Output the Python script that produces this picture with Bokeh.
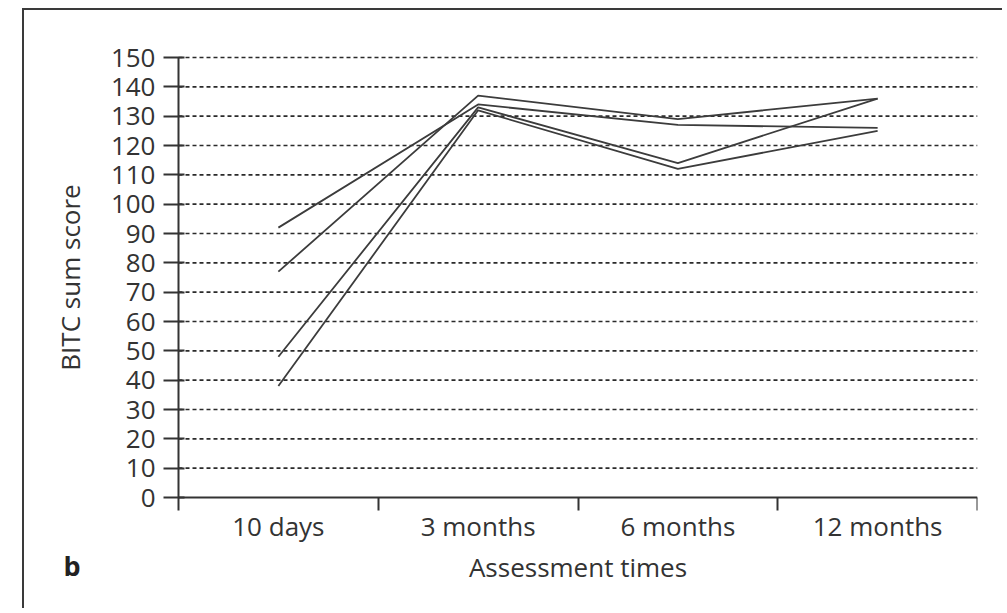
from bokeh.plotting import figure
from bokeh.models import FixedTicker, Label, Range1d
from bokeh.embed import file_html
from bokeh.resources import INLINE

categories = ["10 days", "3 months", "6 months", "12 months"]
patient_1 = [92, 134, 127, 126]
patient_2 = [77, 137, 129, 136]
patient_3 = [48, 133, 114, 136]
patient_4 = [38, 132, 112, 125]
series = [patient_1, patient_2, patient_3, patient_4]
y_ticks = list(range(0, 151, 10))

FONT = "Open Sans"
INK = "#333333"
FS = "26px"

# layout (pixels): canvas size, y-axis offset inside canvas, zero line position
W, H = 980, 600
AXIS_X_PX = 154          # y axis position from canvas left
AXIS_END_PX = 953        # right end of x axis from canvas left
TOP_Y_PX = 47            # y = 150 from canvas top
ZERO_Y_PX = 487          # y = 0 from canvas top
TOP_PAD = 8
n = len(categories)
ymax = y_ticks[-1]
px_per_x = (AXIS_END_PX - AXIS_X_PX) / n
px_per_y = (ZERO_Y_PX - TOP_Y_PX) / ymax
x_start = -AXIS_X_PX / px_per_x
y_start = -(H - ZERO_Y_PX) / px_per_y
y_end = ymax + (TOP_Y_PX - TOP_PAD) / px_per_y

p = figure(width=W, height=H, output_backend="svg", toolbar_location=None,
           x_range=Range1d(x_start, n), y_range=Range1d(y_start, y_end),
           min_border_left=0, min_border_right=W - AXIS_END_PX, min_border_top=TOP_PAD,
           min_border_bottom=0, outline_line_color=None)
p.styles = {"margin-left": "22px", "margin-top": "8px",
            "border-left": "2px solid #3a3a3a", "border-top": "2px solid #3a3a3a"}

p.xgrid.grid_line_color = None
p.ygrid.grid_line_color = None

# dotted horizontal grid lines, from the y axis to the right end
grid_y = y_ticks[1:]
p.segment(x0=[0] * len(grid_y), x1=[n] * len(grid_y), y0=grid_y, y1=grid_y,
          line_color="#2a2a2a", line_width=1.6, line_dash="4 3")

xs = [i + 0.5 for i in range(n)]
for s in series:
    p.line(xs, s, line_color="#3c3c3c", line_width=1.8)

# x axis
xa = p.xaxis[0]
xa.fixed_location = 0
xa.bounds = (0, n)
xa.ticker = FixedTicker(ticks=xs, minor_ticks=list(range(n + 1)))
xa.major_label_overrides = {x: c for x, c in zip(xs, categories)}
xa.major_tick_line_color = None
xa.major_tick_out = 5
xa.major_tick_in = 0
xa.minor_tick_out = 13
xa.minor_tick_in = 0
xa.minor_tick_line_color = INK
xa.minor_tick_line_width = 2
xa.axis_line_color = INK
xa.axis_line_width = 2
xa.major_label_standoff = -3
xa.major_label_text_font = FONT
xa.major_label_text_font_size = FS
xa.major_label_text_color = INK
xa.axis_label = "Assessment times"
xa.axis_label_text_font = FONT
xa.axis_label_text_font_size = FS
xa.axis_label_text_font_style = "normal"
xa.axis_label_text_color = INK
xa.axis_label_standoff = 2

# y axis
ya = p.yaxis[0]
ya.fixed_location = 0
ya.bounds = (0, ymax)
ya.ticker = FixedTicker(ticks=y_ticks)
ya.major_tick_out = 15
ya.major_tick_in = 6
ya.major_tick_line_color = INK
ya.major_tick_line_width = 2
ya.minor_tick_line_color = None
ya.axis_line_color = INK
ya.axis_line_width = 2
ya.major_label_standoff = 8
ya.major_label_text_font = FONT
ya.major_label_text_font_size = FS
ya.major_label_text_color = INK
ya.axis_label = "BITC sum score"
ya.axis_label_text_font = FONT
ya.axis_label_text_font_size = FS
ya.axis_label_text_font_style = "normal"
ya.axis_label_text_color = INK
ya.axis_label_standoff = 20

p.add_layout(Label(x=39, y=45, x_units="screen", y_units="screen", text="b",
                   text_font=FONT, text_font_size="27px", text_font_style="bold",
                   text_color="#222222", text_baseline="alphabetic"))

open("out.html", "w").write(file_html(p, INLINE))
